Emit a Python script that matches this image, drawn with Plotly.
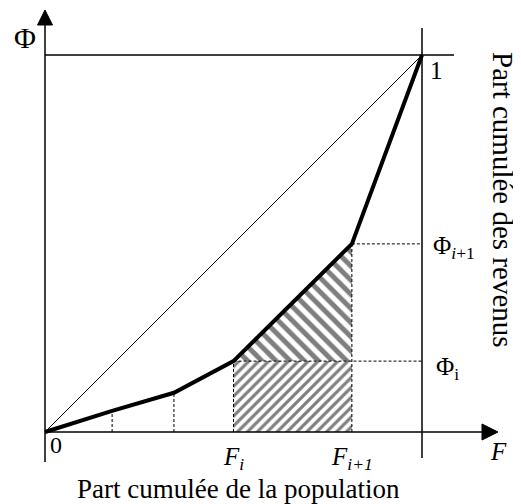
import plotly.graph_objects as go

# Lorenz curve points (cumulative population share F, cumulative income share Phi)
F = [0.0, 0.178, 0.342, 0.500, 0.814, 1.0]
PHI = [0.0, 0.056, 0.104, 0.188, 0.499, 1.0]
I_LO, I_HI = 3, 4  # indices of F_i and F_{i+1}

x_title = "Part cumulée de la population"
y_title = "Part cumulée des revenus"

S = 377.0          # px per unit
WIN_W, WIN_H = 521, 504
OFF = 8            # page body margin
W, H = WIN_W - OFF, WIN_H - OFF
X0, Y0 = 45.0, 432.0  # window pixel of origin

def px(v):
    return v / S

def dx(p):  # window pixel x -> data
    return (p - X0) / S

def dy(p):  # window pixel y -> data
    return (Y0 - p) / S

FONT = "Liberation Serif, Times New Roman, serif"

fig = go.Figure()

fi, fi1 = F[I_LO], F[I_HI]
pi, pi1 = PHI[I_LO], PHI[I_HI]

# hatched rectangle below Phi_i
fig.add_trace(go.Scatter(
    x=[fi, fi1, fi1, fi, fi], y=[0, 0, pi, pi, 0],
    mode="lines", line=dict(width=0), fill="toself", fillcolor="white",
    fillpattern=dict(shape="/", size=7, solidity=0.45, fgcolor="black", bgcolor="white"),
    hoverinfo="skip", showlegend=False))
# hatched triangle between curve and Phi_i
fig.add_trace(go.Scatter(
    x=[fi, fi1, fi1, fi], y=[pi, pi1, pi, pi],
    mode="lines", line=dict(width=0), fill="toself", fillcolor="white",
    fillpattern=dict(shape="\\", size=10, solidity=0.5, fgcolor="black", bgcolor="white"),
    hoverinfo="skip", showlegend=False))

dash = dict(color="black", width=1, dash="3px,2px")
for k in range(1, len(F) - 1):
    fig.add_trace(go.Scatter(x=[F[k], F[k]], y=[0, PHI[k]], mode="lines",
                             line=dash, hoverinfo="skip", showlegend=False))
for k in (I_LO, I_HI):
    fig.add_trace(go.Scatter(x=[F[k], 1.0], y=[PHI[k], PHI[k]], mode="lines",
                             line=dash, hoverinfo="skip", showlegend=False))

fig.add_trace(go.Scatter(x=[0, 1], y=[0, 1], mode="lines",
                         line=dict(color="black", width=1), hoverinfo="skip", showlegend=False))
fig.add_trace(go.Scatter(x=F, y=PHI, mode="lines",
                         line=dict(color="black", width=4), hoverinfo="skip", showlegend=False))

shapes = []
lw = 1.5
shapes.append(dict(type="line", x0=0, x1=0, y0=dy(462), y1=dy(24), line=dict(color="black", width=lw)))
shapes.append(dict(type="line", x0=0, x1=dx(483), y0=0, y1=0, line=dict(color="black", width=lw)))
shapes.append(dict(type="line", x0=0, x1=dx(454), y0=1, y1=1, line=dict(color="black", width=lw)))
shapes.append(dict(type="line", x0=1, x1=1, y0=dy(458), y1=dy(28), line=dict(color="black", width=lw)))
ty = dy(10); by = dy(25); hw = px(7.5)
shapes.append(dict(type="path", path=f"M {-hw} {by} L 0 {ty} L {hw} {by} Z",
                   fillcolor="black", line=dict(color="black", width=1)))
tx = dx(498); bx = dx(482); hh = px(8)
shapes.append(dict(type="path", path=f"M {bx} {-hh} L {tx} 0 L {bx} {hh} Z",
                   fillcolor="black", line=dict(color="black", width=1)))

def ann(x, y, text, size=20, **kw):
    d = dict(x=x, y=y, text=text, showarrow=False, xref="x", yref="y",
             font=dict(family=FONT, size=size, color="black"))
    d.update(kw)
    return d

annotations = [
    ann(dx(25), dy(37), "Φ", size=30),
    ann(dx(436), dy(70), "1", size=25),
    ann(dx(56), dy(445), "0", size=24),
    ann(dx(498), dy(451), "<i>F</i>", size=25),
    ann(fi, dy(458), "<i>F<sub>i</sub></i>", size=25),
    ann(fi1, dy(458), "<i>F<sub>i+1</sub></i>", size=25),
    ann(dx(431), pi1 - px(4), "Φ<sub><i>i</i>+1</sub>", size=25, xanchor="left"),
    ann(dx(434), pi - px(7), "Φ<sub>i</sub>", size=25, xanchor="left"),
    ann(dx(238), dy(489), x_title, size=27),
    ann(dx(503), dy(200), y_title, size=29, textangle=90),
]

fig.update_layout(
    width=W, height=H, margin=dict(l=0, r=0, t=0, b=0),
    paper_bgcolor="white", plot_bgcolor="white",
    xaxis=dict(range=[dx(OFF), dx(WIN_W)], visible=False, fixedrange=True),
    yaxis=dict(range=[dy(WIN_H), dy(OFF)], visible=False, fixedrange=True),
    shapes=shapes, annotations=annotations, showlegend=False,
)

fig.write_html("out.html")
